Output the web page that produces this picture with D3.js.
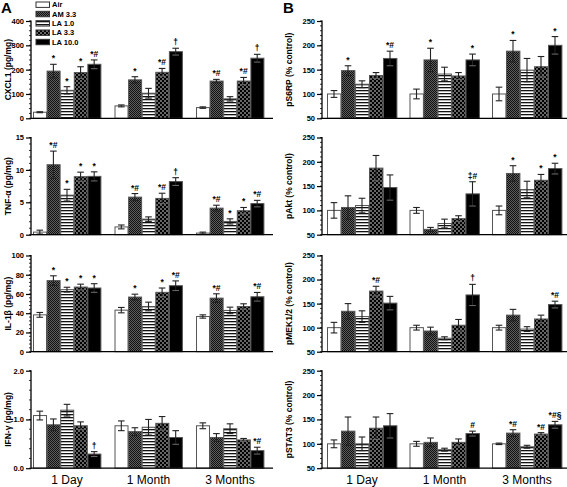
<!DOCTYPE html>
<html><head><meta charset="utf-8">
<script src="https://cdn.jsdelivr.net/npm/d3@7"></script>
<style>
html,body{margin:0;padding:0;background:#fff;}
svg{display:block;font-family:"Liberation Sans",Arial,sans-serif;}
</style></head>
<body><div id="chart"></div>
<script>
const groups = ["1 Day", "1 Month", "3 Months"];
const series = ["Air", "AM 3.3", "LA 1.0", "LA 3.3", "LA 10.0"];

// Panel A
const cxcl1Mean = [[25,194,115,188,222],[51,158,103,189,274],[44,153,80,153,247]];
const cxcl1Err  = [[2,28,15,24,18],[4,13,20,16,14],[3,7,9,15,16]];
const cxcl1Sig  = [["","*","*","*","*#"],["","*","","*#","†"],["","*#","","*#","†"]];
const cxcl1Ticks = [0,100,200,300,400];

const tnfMean = [[0.4,10.8,6.1,8.95,9.0],[1.2,5.8,2.4,5.6,8.2],[0.25,4.1,2.05,3.7,4.8]];
const tnfErr  = [[0.3,2.1,0.9,0.7,0.7],[0.3,0.55,0.35,0.8,0.6],[0.15,0.45,0.4,0.5,0.5]];
const tnfSig  = [["","*#","*","*","*"],["","*#","","*#","†"],["","*#","*","*","*#"]];
const tnfTicks = [0,5,10,15];

const il1Mean = [[38.3,73.9,64.5,67.2,66.2],[43.2,56.8,47,61.7,68.6],[36.6,55.7,42.9,47,57.1]];
const il1Err  = [[2.5,5,2.5,3,4.5],[2.8,3,4.5,4.5,5],[1.7,4.5,3.4,2.8,4.5]];
const il1Sig  = [["","*","*","*","*"],["","*","","*","*#"],["","*#","","","*#"]];
const il1Ticks = [0,20,40,60,80,100];

const ifnMean = [[1.08,0.89,1.19,0.87,0.29],[0.87,0.75,0.84,0.92,0.63],[0.87,0.63,0.81,0.58,0.36]];
const ifnErr  = [[0.09,0.12,0.12,0.08,0.05],[0.1,0.08,0.16,0.14,0.14],[0.06,0.08,0.1,0.03,0.07]];
const ifnSig  = [["","","","","†"],["","","","",""],["","","","","*#"]];
const ifnTicks = [0,1,2];

// Panel B
const s6Mean = [[100,148,120,138,173],[100,170,141,137,170],[100,188,149,156,200]];
const s6Err  = [[7,10,7,6,15],[10,24,14,7,12],[14,22,24,21,18]];
const s6Sig  = [["","*","","","*#"],["","*","","","*"],["","*","","","*"]];

const aktMean = [[100,106,110,187,147],[100,61,73,83,134],[100,176,143,162,186]];
const aktErr  = [[16,24,15,26,26],[6,4,9,6,25],[9,16,17,12,11]];
const aktSig  = [["","","","",""],["","","","","‡#"],["","*","","*","*"]];

const mekMean = [[100,134,123,176,151],[100,93,78,105,168],[100,126,97,118,148]];
const mekErr  = [[11,16,12,10,14],[5,8,3,12,22],[5,12,5,8,7]];
const mekSig  = [["","","","*#",""],["","","","","†"],["","","","","*#"]];

const statMean = [[100,126,100,132,137],[100,103,88,103,121],[100,122,94,120,139]];
const statErr  = [[8,29,14,23,25],[5,9,3,7,5],[1.5,7,3,3,7]];
const statSig  = [["","","","",""],["","","","","#"],["","*#","","*#","*#§"]];
const pctTicks = [50,100,150,200,250];

const W = 567, H = 487;
const svg = d3.select("#chart").append("svg").attr("width", W).attr("height", H);
const defs = svg.append("defs");

// patterns
const pAM = defs.append("pattern").attr("id","pAM").attr("patternUnits","userSpaceOnUse").attr("width",2).attr("height",2);
pAM.append("rect").attr("width",2).attr("height",2).attr("fill","#5e5e5e");
pAM.append("rect").attr("width",1).attr("height",1).attr("fill","#111");
pAM.append("rect").attr("x",1).attr("y",1).attr("width",1).attr("height",1).attr("fill","#111");

const pL1 = defs.append("pattern").attr("id","pL1").attr("patternUnits","userSpaceOnUse").attr("width",3).attr("height",3);
pL1.append("rect").attr("width",3).attr("height",3).attr("fill","#fff");
pL1.append("rect").attr("width",3).attr("height",1.3).attr("fill","#111");

const pL3 = defs.append("pattern").attr("id","pL3").attr("patternUnits","userSpaceOnUse").attr("width",4).attr("height",4);
pL3.append("rect").attr("width",4).attr("height",4).attr("fill","#000");
pL3.append("circle").attr("cx",1).attr("cy",1).attr("r",0.75).attr("fill","#fff");
pL3.append("circle").attr("cx",3).attr("cy",3).attr("r",0.75).attr("fill","#fff");

const fills = ["#fff","url(#pAM)","url(#pL1)","url(#pL3)","#000"];

const rowsTop = [21, 137.5, 255.5, 370.7];
const rowsBot = [118.3, 234.7, 351.7, 468.2];

const colA = {axisX: 31, xEnd: 273, r0: 33, r1: 264, pad: 0.166, titleX: 8};
const colB = {axisX: 322, xEnd: 567, r0: 327, r1: 562, pad: 0.1515, titleX: 289};

const panels = [
  {col: colA, row: 0, mean: cxcl1Mean, err: cxcl1Err, sig: cxcl1Sig, ticks: cxcl1Ticks, dom: [0,400], title: "CXCL1 (pg/mg)", fmt: d3.format("d")},
  {col: colA, row: 1, mean: tnfMean, err: tnfErr, sig: tnfSig, ticks: tnfTicks, dom: [0,15], title: "TNF-α (pg/mg)", fmt: d3.format("d")},
  {col: colA, row: 2, mean: il1Mean, err: il1Err, sig: il1Sig, ticks: il1Ticks, dom: [0,100], title: "IL-1β (pg/mg)", fmt: d3.format("d")},
  {col: colA, row: 3, mean: ifnMean, err: ifnErr, sig: ifnSig, ticks: ifnTicks, dom: [0,2], title: "IFN-γ (pg/mg)", fmt: d3.format(".1f")},
  {col: colB, row: 0, mean: s6Mean, err: s6Err, sig: s6Sig, ticks: pctTicks, dom: [50,250], title: "pS6RP (% control)", fmt: d3.format("d")},
  {col: colB, row: 1, mean: aktMean, err: aktErr, sig: aktSig, ticks: pctTicks, dom: [50,250], title: "pAkt (% control)", fmt: d3.format("d")},
  {col: colB, row: 2, mean: mekMean, err: mekErr, sig: mekSig, ticks: pctTicks, dom: [50,250], title: "pMEK1/2 (% control)", fmt: d3.format("d")},
  {col: colB, row: 3, mean: statMean, err: statErr, sig: statSig, ticks: pctTicks, dom: [50,250], title: "pSTAT3 (% control)", fmt: d3.format("d")}
];

panels.forEach(p => {
  const c = p.col;
  const top = rowsTop[p.row], bot = rowsBot[p.row];
  const y = d3.scaleLinear().domain(p.dom).range([bot, top]);
  const x0 = d3.scaleBand().domain(groups).range([c.r0, c.r1]).paddingInner(c.pad).paddingOuter(0);
  const x1 = d3.scaleBand().domain(series).range([0, x0.bandwidth()]);
  const g = svg.append("g");

  const data = [];
  groups.forEach((gr, gi) => series.forEach((s, si) => {
    data.push({gr, s, si, v: p.mean[gi][si], e: p.err[gi][si], sig: p.sig[gi][si]});
  }));

  g.selectAll("rect.bar").data(data).join("rect").attr("class","bar")
    .attr("x", d => x0(d.gr) + x1(d.s) + 0.5)
    .attr("width", x1.bandwidth() - 0.6)
    .attr("y", d => y(d.v))
    .attr("height", d => y(p.dom[0]) - y(d.v))
    .attr("fill", d => fills[d.si])
    .attr("stroke", "#555").attr("stroke-width", 1);

  const cx = d => x0(d.gr) + x1(d.s) + x1.bandwidth()/2;
  const capW = 3.3;
  const eb = g.selectAll("g.eb").data(data).join("g").attr("class","eb")
    .attr("stroke", "#222").attr("stroke-width", 1.1);
  eb.append("line").attr("x1", cx).attr("x2", cx)
    .attr("y1", d => y(Math.max(p.dom[0], d.v - d.e))).attr("y2", d => y(d.v + d.e));
  eb.append("line").attr("x1", d => cx(d) - capW).attr("x2", d => cx(d) + capW)
    .attr("y1", d => y(d.v + d.e)).attr("y2", d => y(d.v + d.e));
  eb.filter(d => d.v - d.e > p.dom[0]).append("line")
    .attr("x1", d => cx(d) - capW).attr("x2", d => cx(d) + capW)
    .attr("y1", d => y(d.v - d.e)).attr("y2", d => y(d.v - d.e))
    .attr("stroke", d => (d.si === 4 || d.si === 3) ? "#666" : "#222");

  g.selectAll("text.sig").data(data.filter(d => d.sig)).join("text").attr("class","sig")
    .attr("x", cx).attr("y", d => y(d.v + d.e) - 3)
    .attr("text-anchor","middle").attr("font-size", 8.5).attr("font-weight","bold")
    .attr("fill","#000").text(d => d.sig);

  const ya = d3.axisLeft(y).tickValues(p.ticks).tickFormat(p.fmt).tickSize(5).tickPadding(2);
  const yAx = g.append("g").attr("transform", `translate(${c.axisX},0)`).call(ya);
  yAx.select(".domain").remove();
  yAx.selectAll("line").attr("stroke","#000").attr("stroke-width",1.2);
  yAx.selectAll("text").attr("font-size", 7.5).attr("font-weight","bold").attr("fill","#000")
     .attr("font-family","'Liberation Sans',Arial,sans-serif");
  const step = p.ticks[1] - p.ticks[0];
  const minors = [];
  for (let v = p.dom[0]; v <= p.dom[1] + 1e-9; v += step/5) minors.push(v);
  g.selectAll("line.minor").data(minors).join("line").attr("class","minor")
    .attr("x1", c.axisX - 2).attr("x2", c.axisX)
    .attr("y1", d => y(d)).attr("y2", d => y(d)).attr("stroke","#000").attr("stroke-width",0.8);
  g.append("line").attr("x1", c.axisX).attr("x2", c.axisX).attr("y1", top - 0.5).attr("y2", bot + 0.6)
    .attr("stroke","#000").attr("stroke-width",1.3);
  g.append("line").attr("x1", c.axisX).attr("x2", c.xEnd).attr("y1", bot).attr("y2", bot)
    .attr("stroke","#000").attr("stroke-width",1.3);

  g.append("text").attr("transform", `translate(${c.titleX},${(top+bot)/2}) rotate(-90)`)
    .attr("text-anchor","middle").attr("dy","0.35em").attr("font-size", 8.5).attr("font-weight","bold")
    .attr("fill","#000").text(p.title);

  if (p.row === 3) {
    g.selectAll("text.xl").data(groups).join("text").attr("class","xl")
      .attr("x", d => x0(d) + x0.bandwidth()/2).attr("y", 484)
      .attr("text-anchor","middle").attr("font-size", 12).attr("fill","#000").text(d => d);
  }
});

svg.append("text").attr("x", 1).attr("y", 13).attr("font-size", 15).attr("font-weight","bold").text("A");
svg.append("text").attr("x", 283).attr("y", 13).attr("font-size", 15).attr("font-weight","bold").text("B");

const leg = svg.append("g").attr("transform","translate(36,0)");
series.forEach((s, i) => {
  const cy = 4.7 + i * 9.33;
  leg.append("rect").attr("x", 0).attr("y", cy - 2.7).attr("width", 13.5).attr("height", 5.4)
    .attr("fill", fills[i]).attr("stroke", "#333").attr("stroke-width", 1);
  leg.append("text").attr("x", 16).attr("y", cy).attr("dy","0.35em")
    .attr("font-size", 7.5).attr("font-weight","bold").attr("fill","#000").text(s);
});
</script>
</body></html>
